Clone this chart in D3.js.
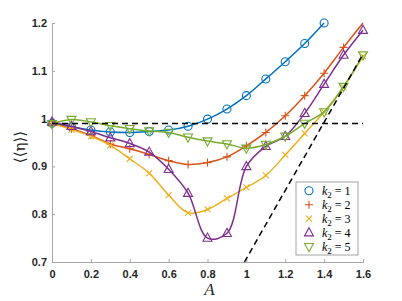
<!DOCTYPE html>
<html>
<head>
<meta charset="utf-8">
<script src="https://cdn.jsdelivr.net/npm/d3@7"></script>
<style>
  body { margin: 0; background: #fff; }
  .tick text { font-family: "Liberation Sans", Arial, sans-serif; font-weight: bold; font-size: 11px; fill: #262626; }
</style>
</head>
<body>
<div id="container"></div>
<script>
// mean efficiency vs amplitude A, for k2 = 1..5

// data
var A = [0, 0.1, 0.2, 0.3, 0.4, 0.5, 0.6, 0.7, 0.8, 0.9, 1.0, 1.1, 1.2, 1.3, 1.4, 1.5, 1.6];
var k1 = [0.990, 0.983, 0.976, 0.972, 0.971, 0.973, 0.976, 0.984, 0.999, 1.020, 1.048, 1.083, 1.119, 1.157, 1.200];
var k2 = [0.990, 0.979, 0.965, 0.947, 0.937, 0.925, 0.912, 0.904, 0.908, 0.920, 0.943, 0.971, 1.006, 1.048, 1.095, 1.149, 1.200];
var k3 = [0.990, 0.977, 0.963, 0.944, 0.916, 0.886, 0.840, 0.803, 0.810, 0.833, 0.856, 0.881, 0.924, 0.969, 1.014, 1.066, 1.130];
var k4 = [0.993, 0.984, 0.973, 0.960, 0.948, 0.930, 0.894, 0.844, 0.750, 0.760, 0.900, 0.942, 0.963, 1.011, 1.072, 1.133, 1.185];
var k5 = [0.989, 0.998, 0.993, 0.985, 0.979, 0.974, 0.971, 0.961, 0.953, 0.947, 0.938, 0.946, 0.963, 0.990, 1.014, 1.067, 1.133];
// last A with a marker drawn, per series
var lastMark = [1.4, 1.5, 1.6, 1.6, 1.6];
var labels = ["1", "2", "3", "4", "5"];

// dashed reference lines
var hLine = [[0, 0.99], [1.6, 0.99]];
var dLine = [[0.99, 0.7], [1.6, 1.135]];

var xTicks = [0, 0.2, 0.4, 0.6, 0.8, 1, 1.2, 1.4, 1.6];
var yTicks = [0.7, 0.8, 0.9, 1, 1.1, 1.2];

var colors = ["#0072BD", "#D95319", "#EDB120", "#7E2F8E", "#77AC30"];
var shapes = ["circle", "plus", "cross", "tri-up", "tri-down"];

var margin = {top: 23, right: 39, bottom: 39, left: 52},
    width = 402 - margin.left - margin.right,
    height = 301 - margin.top - margin.bottom;

var svg = d3.select("#container").append("svg")
    .attr("width", 402)
    .attr("height", 301)
  .append("g")
    .attr("transform", "translate(" + margin.left + "," + margin.top + ")");

var x = d3.scaleLinear().domain([0, 1.6]).range([0, width]);
var y = d3.scaleLinear().domain([0.7, 1.2]).range([height, 0]);

// axes (MATLAB style: ticks inside, box off)
var xAxis = d3.axisBottom(x).tickValues(xTicks).tickSize(-3).tickPadding(8)
    .tickFormat(function(d) { return d3.format("~g")(d); });
var yAxis = d3.axisLeft(y).tickValues(yTicks).tickSize(-3).tickPadding(5)
    .tickFormat(function(d) { return d3.format("~g")(d); });

svg.append("g")
    .attr("transform", "translate(0," + height + ")")
    .call(xAxis)
    .call(function(g) { g.selectAll("line,path").attr("stroke", "#a6a6a6"); });

svg.append("g")
    .call(yAxis)
    .call(function(g) { g.selectAll("line,path").attr("stroke", "#a6a6a6"); });

// series
var series = [k1, k2, k3, k4, k5].map(function(vals, i) {
  return {
    color: colors[i], shape: shapes[i], label: labels[i], last: lastMark[i],
    pts: vals.map(function(v, j) { return [A[j], v]; })
  };
});

var line = d3.line()
    .x(function(d) { return x(d[0]); })
    .y(function(d) { return y(d[1]); })
    .curve(d3.curveCatmullRom.alpha(0.5));

var straight = d3.line()
    .x(function(d) { return x(d[0]); })
    .y(function(d) { return y(d[1]); });

// marker drawing
function marker(g, shape, color) {
  if (shape === "circle") {
    g.append("circle").attr("r", 4);
  } else if (shape === "plus") {
    g.append("path").attr("d", "M-4,0H4M0,-4V4");
  } else if (shape === "cross") {
    g.append("path").attr("d", "M-3,-3L3,3M-3,3L3,-3");
  } else if (shape === "tri-up") {
    g.append("path").attr("d", "M0,-5L4.5,3.2L-4.5,3.2Z");
  } else {
    g.append("path").attr("d", "M0,5L4.5,-3.2L-4.5,-3.2Z");
  }
  g.selectAll("*").attr("fill", "none").attr("stroke", color).attr("stroke-width", 1.1);
}

series.forEach(function(s) {
  svg.append("path")
      .datum(s.pts)
      .attr("fill", "none")
      .attr("stroke", s.color)
      .attr("stroke-width", 1.5)
      .attr("d", line);

  svg.selectAll(null)
      .data(s.pts.filter(function(d) { return d[0] <= s.last + 1e-9; }))
    .enter().append("g")
      .attr("transform", function(d) { return "translate(" + x(d[0]) + "," + y(d[1]) + ")"; })
      .each(function() { marker(d3.select(this), s.shape, s.color); });
});

// dashed lines
[hLine, dLine].forEach(function(l) {
  svg.append("path")
      .datum(l)
      .attr("fill", "none")
      .attr("stroke", "#000")
      .attr("stroke-width", 1.5)
      .attr("stroke-dasharray", "6,4")
      .attr("d", straight);
});

// legend
var lg = svg.append("g").attr("transform", "translate(" + (296 - margin.left) + "," + (182 - margin.top) + ")");
lg.append("rect")
    .attr("width", 62).attr("height", 73)
    .attr("fill", "#fff").attr("stroke", "#8c8c8c").attr("stroke-width", 0.8);

series.forEach(function(s, i) {
  var row = lg.append("g").attr("transform", "translate(0," + (8.7 + i * 14) + ")");
  marker(row.append("g").attr("transform", "translate(13,0)"), s.shape, s.color);
  var t = row.append("text")
      .attr("x", 26).attr("y", 4)
      .style("font-family", "'Liberation Serif', 'Times New Roman', serif")
      .style("font-size", "12px")
      .attr("fill", "#000");
  t.append("tspan").style("font-style", "italic").text("k");
  t.append("tspan").attr("dy", 3).style("font-size", "9px").text("2");
  t.append("tspan").attr("dy", -3).text(" = " + s.label);
});

// axis labels
svg.append("text")
    .attr("x", x(0.8) + 2)
    .attr("y", height + 33)
    .attr("text-anchor", "middle")
    .style("font-family", "'Liberation Serif', 'Times New Roman', serif")
    .style("font-style", "italic")
    .style("font-size", "17px")
    .attr("fill", "#262626")
    .text("A");

svg.append("text")
    .attr("transform", "rotate(-90)")
    .attr("x", -(147 - margin.top))
    .attr("y", -margin.left + 25)
    .attr("text-anchor", "middle")
    .style("font-family", "'DejaVu Serif', serif")
    .style("font-size", "15px")
    .attr("fill", "#262626")
    .text("\u27E8\u27E8\u03B7\u27E9\u27E9");
</script>
</body>
</html>
